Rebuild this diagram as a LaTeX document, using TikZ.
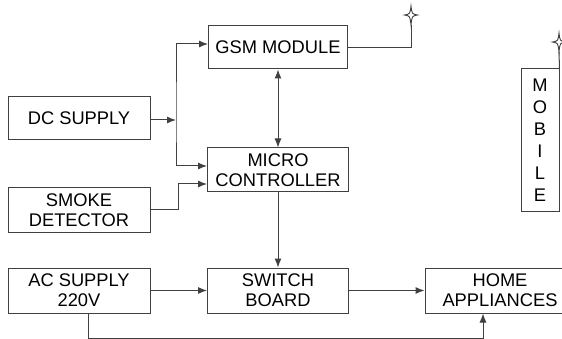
\documentclass[tikz,border=0pt]{standalone}
\usepackage{fontspec}
\setmainfont{Liberation Sans}
\usetikzlibrary{arrows.meta}
\definecolor{wirecol}{HTML}{404040}

% small star-shaped aerial at a named coordinate
\newcommand{\aerial}[1]{%
  \begin{scope}[shift={(#1)}]
    \draw[wirecol,fill=white,line width=0.9pt]
      (0,-9) .. controls (1,-1) .. (6.5,0) .. controls (1,1) .. (0,10)
      .. controls (-1,1) .. (-6.5,0) .. controls (-1,-1) .. cycle;
  \end{scope}}

\begin{document}
\begin{tikzpicture}[x=1pt,y=-1pt,>={Latex[length=9pt,width=7pt]},
  font=\fontsize{18.3}{20}\selectfont,
  box/.style={draw=wirecol,line width=1pt,align=center,inner sep=0pt,
    text=black},
  link/.style={draw=wirecol,line width=1pt}]
  \useasboundingbox (0,0) rectangle (562,339);

  % blocks
  \node[box,minimum width=139pt,minimum height=43pt] (gsm) at (278,47.5)
    {GSM MODULE};
  \node[box,minimum width=141pt,minimum height=44pt] (micro) at (278,170)
    {MICRO\\CONTROLLER};
  \node[box,minimum width=142pt,minimum height=43pt] (dc) at (79,118.5)
    {DC SUPPLY};
  \node[box,minimum width=142pt,minimum height=44pt] (smoke) at (79,210)
    {SMOKE\\DETECTOR};
  \node[box,minimum width=142pt,minimum height=45pt] (ac) at (79,290.5)
    {AC SUPPLY\\220V};
  \node[box,minimum width=141pt,minimum height=45pt] (switch) at (278,290.5)
    {SWITCH\\BOARD};
  \node[box,minimum width=150pt,minimum height=45pt] (home) at (500,290.5)
    {HOME\\APPLIANCES};
  \node[box,minimum width=38pt,minimum height=143pt,
    font=\fontsize{18.3}{22}\selectfont] (mobile) at (540,140.5)
    {M\\O\\B\\I\\L\\E};

  % supply bus
  \coordinate (bus) at (176,120);
  \draw[link,->] (dc.east |- bus) -- (bus);
  \draw[link,<->] ([yshift=3.5pt]gsm.west) -| (bus)
    |- ([yshift=4pt]micro.west);
  \draw[link,->] (smoke.east) -- ++(28,0) |- ([yshift=-14pt]micro.west);

  \draw[link,<->] (gsm) -- (micro);
  \draw[link,->] (micro) -- (switch);
  \draw[link,->] (ac) -- (switch);
  \draw[link,->] (switch) -- (home);
  \draw[link,->] ([xshift=9pt]ac.south) -- ++(0,25)
    -| ([xshift=-17pt]home.south);

  % aerials
  \coordinate (ant1) at (411,15);
  \coordinate (ant2) at (559,42);
  \draw[link] (gsm.east) -| ([yshift=-10pt]ant1);
  \draw[link] (mobile.north east) -- ([yshift=-10pt]ant2);
  \aerial{ant1}
  \aerial{ant2}
\end{tikzpicture}
\end{document}
